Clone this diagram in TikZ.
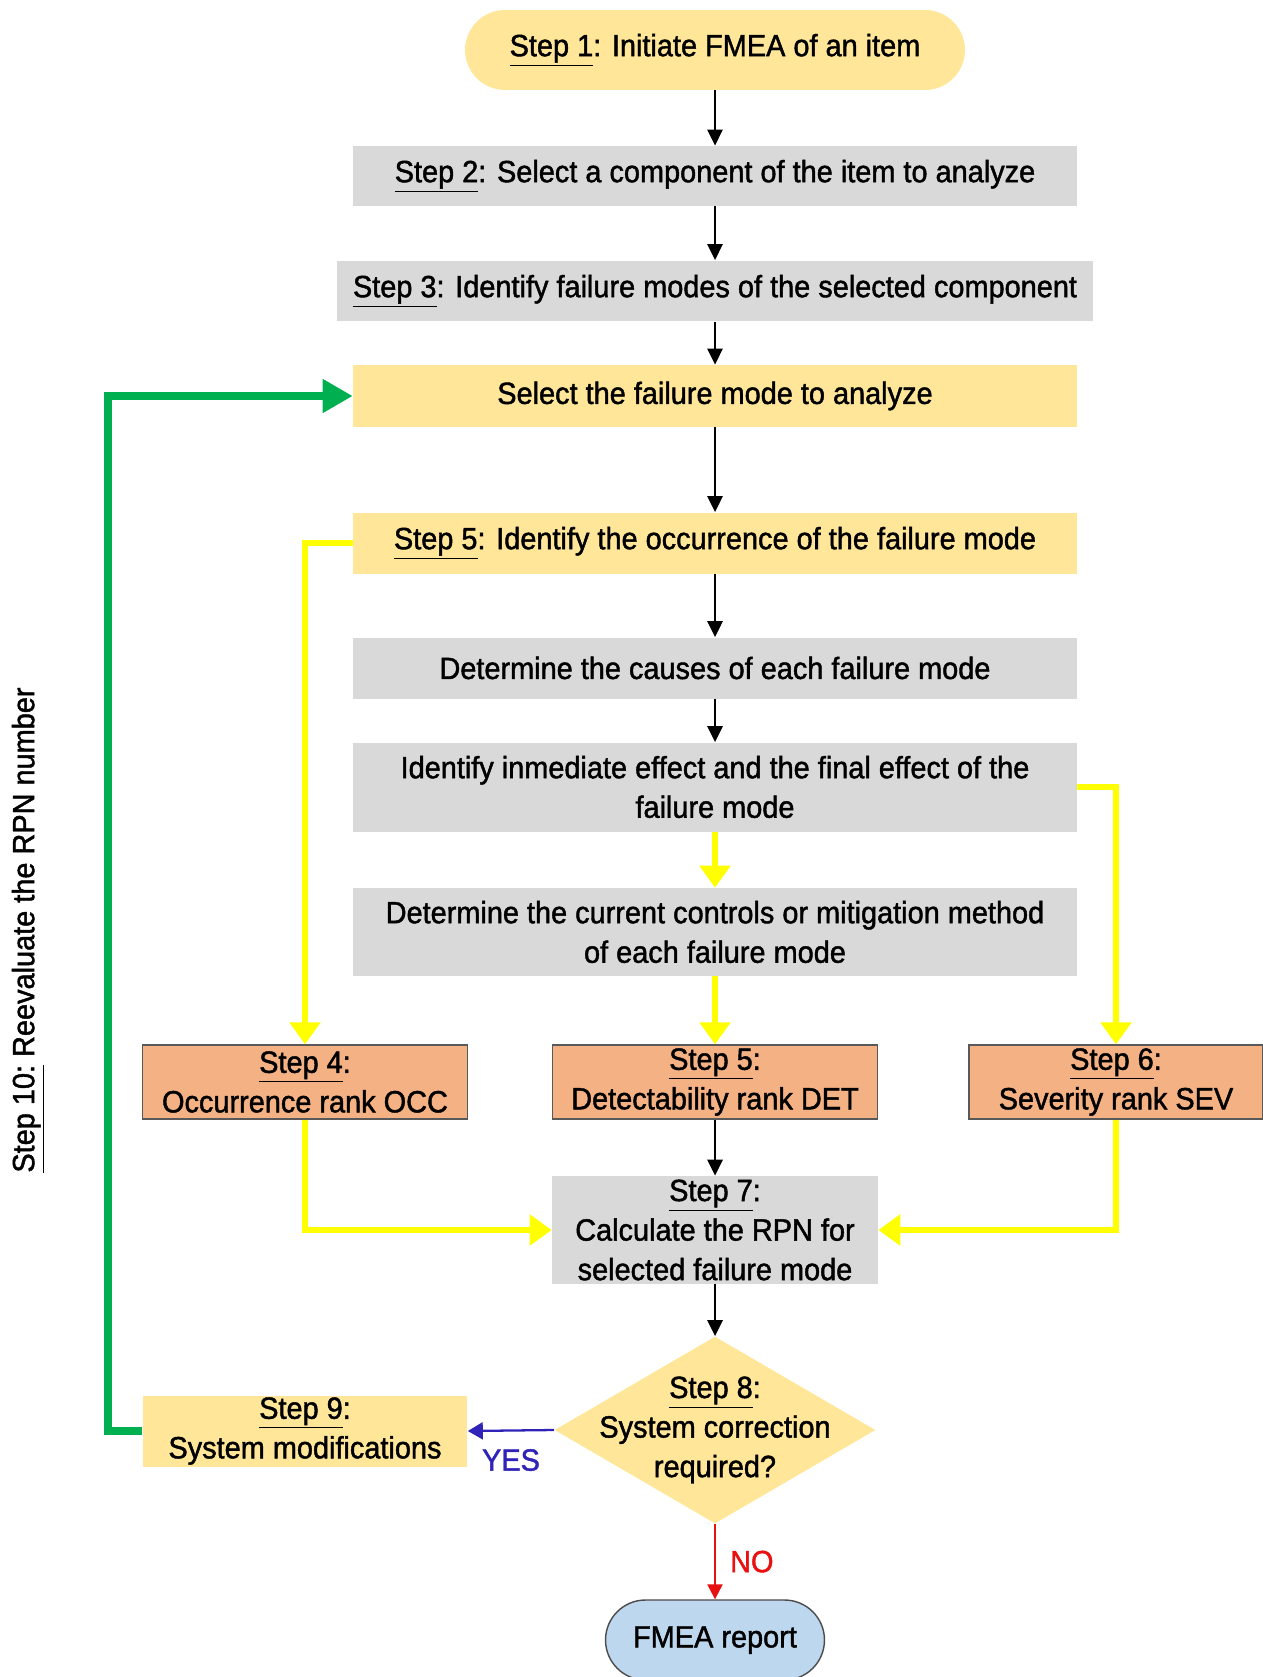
\documentclass[tikz,border=0pt]{standalone}
\usepackage{fontspec}
\setmainfont{Liberation Sans}[FakeStretch=0.94, FakeBold=1.4]
\usetikzlibrary{arrows.meta,shapes.geometric}
\definecolor{boxyellow}{HTML}{FFE699}
\definecolor{boxgray}{HTML}{D9D9D9}
\definecolor{boxorange}{HTML}{F4B183}
\definecolor{boxblue}{HTML}{BDD7EE}
\definecolor{loopgreen}{HTML}{00B050}
\definecolor{lineyellow}{HTML}{FFFF00}
\definecolor{yesblue}{HTML}{3023B8}
\definecolor{nored}{HTML}{E81010}

\begin{document}
\begin{tikzpicture}[x=0.02cm, y=-0.02cm,
  every node/.style={font=\fontsize{17.5}{22.5}\selectfont, align=center, inner sep=0pt},
  gbox/.style={fill=boxgray, minimum width=14.48cm, minimum height=1.22cm},
  ybox/.style={fill=boxyellow, minimum width=14.48cm, minimum height=1.22cm},
  rbox/.style={fill=boxorange, draw=black!65, line width=0.8pt, minimum width=6.5cm, minimum height=1.48cm},
  flow/.style={-{Triangle[length=0.32cm,width=0.3cm]}, line width=1.6pt},
  feed/.style={-{Triangle[length=0.44cm,width=0.6cm]}, lineyellow, line width=3.4pt}]
\useasboundingbox (0,0) rectangle (1263,1677);
\node[fill=boxyellow, rounded corners=0.8cm, minimum width=10cm, minimum height=1.6cm] (s1) at (715,50) {\underline{Step 1}: Initiate FMEA of an item};
\node[gbox, minimum height=1.2cm] (s2) at (715,176) {\underline{Step 2}: Select a component of the item to analyze};
\node[gbox, minimum width=15.12cm] (s3) at (715,291) {\underline{Step 3}: Identify failure modes of the selected component};
\node[ybox, minimum height=1.24cm] (sel) at (715,396) {Select the failure mode to analyze};
\node[ybox] (s5a) at (715,543) {\underline{Step 5}: Identify the occurrence of the failure mode};
\node[gbox] (cause) at (715,668) {Determine the causes of each failure mode};
\node[gbox, minimum height=1.78cm] (effect) at (715,787) {Identify inmediate effect and the final effect of the\\failure mode};
\node[gbox, minimum height=1.76cm] (ctrl) at (715,932) {Determine the current controls or mitigation method\\of each failure mode};
\node[rbox] (s4) at (305,1082) {\underline{Step 4}:\\Occurrence rank OCC};
\node[rbox] (s5b) at (715,1082) {\underline{Step 5}:\\Detectability rank DET};
\node[rbox, minimum width=5.88cm] (s6) at (1116,1082) {\underline{Step 6}:\\Severity rank SEV};
\node[fill=boxgray, minimum width=6.52cm, minimum height=2.16cm] (s7) at (715,1230) {\underline{Step 7}:\\Calculate the RPN for\\selected failure mode};
\node[diamond, fill=boxyellow, minimum width=6.42cm, minimum height=3.74cm] (s8) at (715,1430) {};
\node (s8txt) at (715,1430) {\underline{Step 8}:\\System correction\\required?};
\node[fill=boxyellow, minimum width=6.5cm, minimum height=1.42cm] (s9) at (305,1431) {\underline{Step 9}:\\System modifications};
\node[fill=boxblue, draw=black!70, line width=0.8pt, rounded corners=0.8cm, minimum width=4.38cm, minimum height=1.6cm] (rep) at (715,1640) {FMEA report};
\node[rotate=90] (s10) at (28,930) {\underline{Step 10:} Reevaluate the RPN number};
\coordinate (back) at (108,1431);

\draw[flow] (s1) -- (s2);
\draw[flow] (s2) -- (s3);
\draw[flow] (s3) -- (sel);
\draw[flow] (sel) -- (s5a);
\draw[flow] (s5a) -- (cause);
\draw[flow] (cause) -- (effect);
\draw[flow] (s5b) -- (s7);
\draw[flow] (s7) -- (s8);
\draw[feed] (effect) -- (ctrl);
\draw[feed] (ctrl) -- (s5b);
\draw[feed] (s5a.west) -| (s4.north);
\draw[feed] (effect.east) -| (s6.north);
\draw[feed] (s4.south) |- (s7.west);
\draw[feed] (s6.south) |- (s7.east);
\draw[-{Triangle[length=0.6cm,width=0.64cm]}, loopgreen, line width=4.4pt] (s9.west) -- (back) |- (sel.west);
\draw[-{Triangle[length=0.3cm,width=0.34cm]}, yesblue, line width=1.3pt] (s8.west) -- node[below=0.35cm, text=yesblue] (yes) {YES} (s9.east);
\draw[-{Triangle[length=0.3cm,width=0.3cm]}, nored, line width=1.3pt] (s8.south) -- node[right=0.28cm, text=nored] (no) {NO} (rep.north);
\end{tikzpicture}
\end{document}
